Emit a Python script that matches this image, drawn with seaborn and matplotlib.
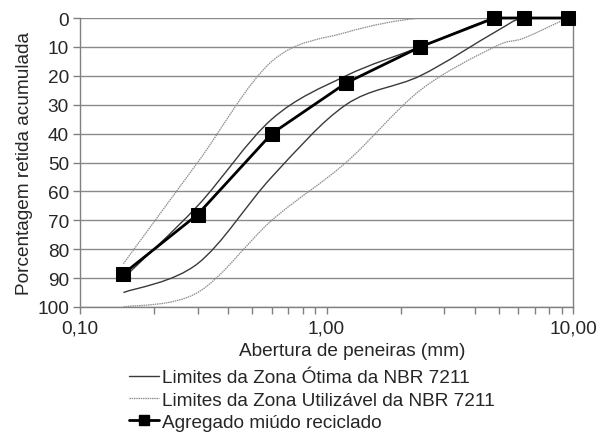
import numpy as np
import pandas as pd
import matplotlib
matplotlib.use("Agg")
import matplotlib.pyplot as plt
import seaborn as sns
from matplotlib.path import Path
from matplotlib.patches import PathPatch
from matplotlib.lines import Line2D
from matplotlib.ticker import FixedLocator, LogLocator, NullFormatter

# ---- data ----
sizes = [0.15, 0.3, 0.6, 1.2, 2.4, 4.8, 6.3, 9.5]
agregado = [88.5, 68, 40, 22.5, 10, 0, 0, 0]
otima_inf = [90, 65, 35, 20, 10, 0, 0, 0]
otima_sup = [95, 85, 55, 30, 20, 5, 0, 0]
util_inf = [85, 50, 15, 5, 0, 0, 0, 0]
util_sup = [100, 95, 70, 50, 25, 10, 7, 0]
x_ticks = [0.1, 1, 10]
x_ticklabels = ["0,10", "1,00", "10,00"]
y_ticks = list(range(0, 101, 10))
lbl_otima = "Limites da Zona Ótima da NBR 7211"
lbl_util = "Limites da Zona Utilizável da NBR 7211"
lbl_agr = "Agregado miúdo reciclado"

FS = 13.7

sns.set_style("white")
plt.rcParams["font.family"] = ["Liberation Sans", "DejaVu Sans"]
plt.rcParams["font.size"] = FS

fig = plt.figure(figsize=(6.05, 4.35), dpi=100)
ax = fig.add_axes([80 / 605, 1 - 308 / 435, 493 / 605, 289 / 435])
ax.set_xscale("log")


def smooth_path(xs, ys):
    # Catmull-Rom style Bezier control points in log-x space (Excel smoothed line)
    lx = np.log10(np.asarray(xs, float))
    yy = np.asarray(ys, float)
    n = len(lx)
    verts = [(xs[0], ys[0])]
    codes = [Path.MOVETO]
    for i in range(n - 1):
        p0 = i - 1 if i > 0 else i
        p3 = i + 2 if i + 2 < n else i + 1
        c1x = lx[i] + (lx[i + 1] - lx[p0]) / 6
        c1y = yy[i] + (yy[i + 1] - yy[p0]) / 6
        c2x = lx[i + 1] - (lx[p3] - lx[i]) / 6
        c2y = yy[i + 1] - (yy[p3] - yy[i]) / 6
        verts += [(10 ** c1x, c1y), (10 ** c2x, c2y), (xs[i + 1], ys[i + 1])]
        codes += [Path.CURVE4] * 3
    return Path(verts, codes)


otima_style = dict(edgecolor="#3a3a3a", linewidth=1.0)
util_style = dict(edgecolor="#8c8c8c", linewidth=0.9, linestyle=(0, (1.2, 0.6)))
for ys in (otima_inf, otima_sup):
    ax.add_patch(PathPatch(smooth_path(sizes, ys), facecolor="none", **otima_style))
for ys in (util_inf, util_sup):
    ax.add_patch(PathPatch(smooth_path(sizes, ys), facecolor="none", **util_style))

df = pd.DataFrame({"x": sizes, "y": agregado})
sns.lineplot(data=df, x="x", y="y", ax=ax, color="black", linewidth=2.0,
             marker="s", markersize=10, markeredgecolor="black", sort=False, zorder=5,
             clip_on=False)

ax.set_xlim(0.1, 10)
ax.set_ylim(100, 0)
ax.xaxis.set_major_locator(FixedLocator(x_ticks))
ax.set_xticklabels(x_ticklabels)
ax.xaxis.set_minor_locator(LogLocator(base=10, subs=np.arange(2, 10)))
ax.xaxis.set_minor_formatter(NullFormatter())
ax.set_yticks(y_ticks)
ax.tick_params(axis="both", which="major", direction="out", length=5, width=1,
               color="#808080", labelsize=FS, pad=3, left=True, bottom=True)
ax.tick_params(axis="x", which="minor", direction="out", length=5, width=1,
               color="#808080", bottom=True)
ax.tick_params(axis="x", which="major", pad=4)
ax.grid(axis="y", color="#8a8a8a", linewidth=1.0)
ax.grid(axis="x", visible=False)
for s in ["left", "bottom", "right"]:
    ax.spines[s].set_visible(True)
    ax.spines[s].set_color("#808080")
    ax.spines[s].set_linewidth(1.0)
ax.spines["top"].set_visible(False)

ax.set_xlabel("Abertura de peneiras (mm)", fontsize=FS, labelpad=4)
ax.xaxis.label.set_x((352 - 80) / 493)
ax.set_ylabel("Porcentagem retida acumulada", fontsize=FS, labelpad=3)

handles = [
    Line2D([], [], color="#3a3a3a", linewidth=1.0),
    Line2D([], [], color="#8c8c8c", linewidth=0.9, linestyle=(0, (1.2, 0.6))),
    Line2D([], [], color="black", linewidth=2.0, marker="s", markersize=7.5),
]
fig.legend(handles, [lbl_otima, lbl_util, lbl_agr], loc="upper left",
           bbox_to_anchor=(129 / 605, 1 - 370 / 435), frameon=False,
           fontsize=FS, handlelength=1.6, handletextpad=0.15, labelspacing=0.26,
           borderpad=0, borderaxespad=0)

fig.savefig("out.png", dpi=100)
